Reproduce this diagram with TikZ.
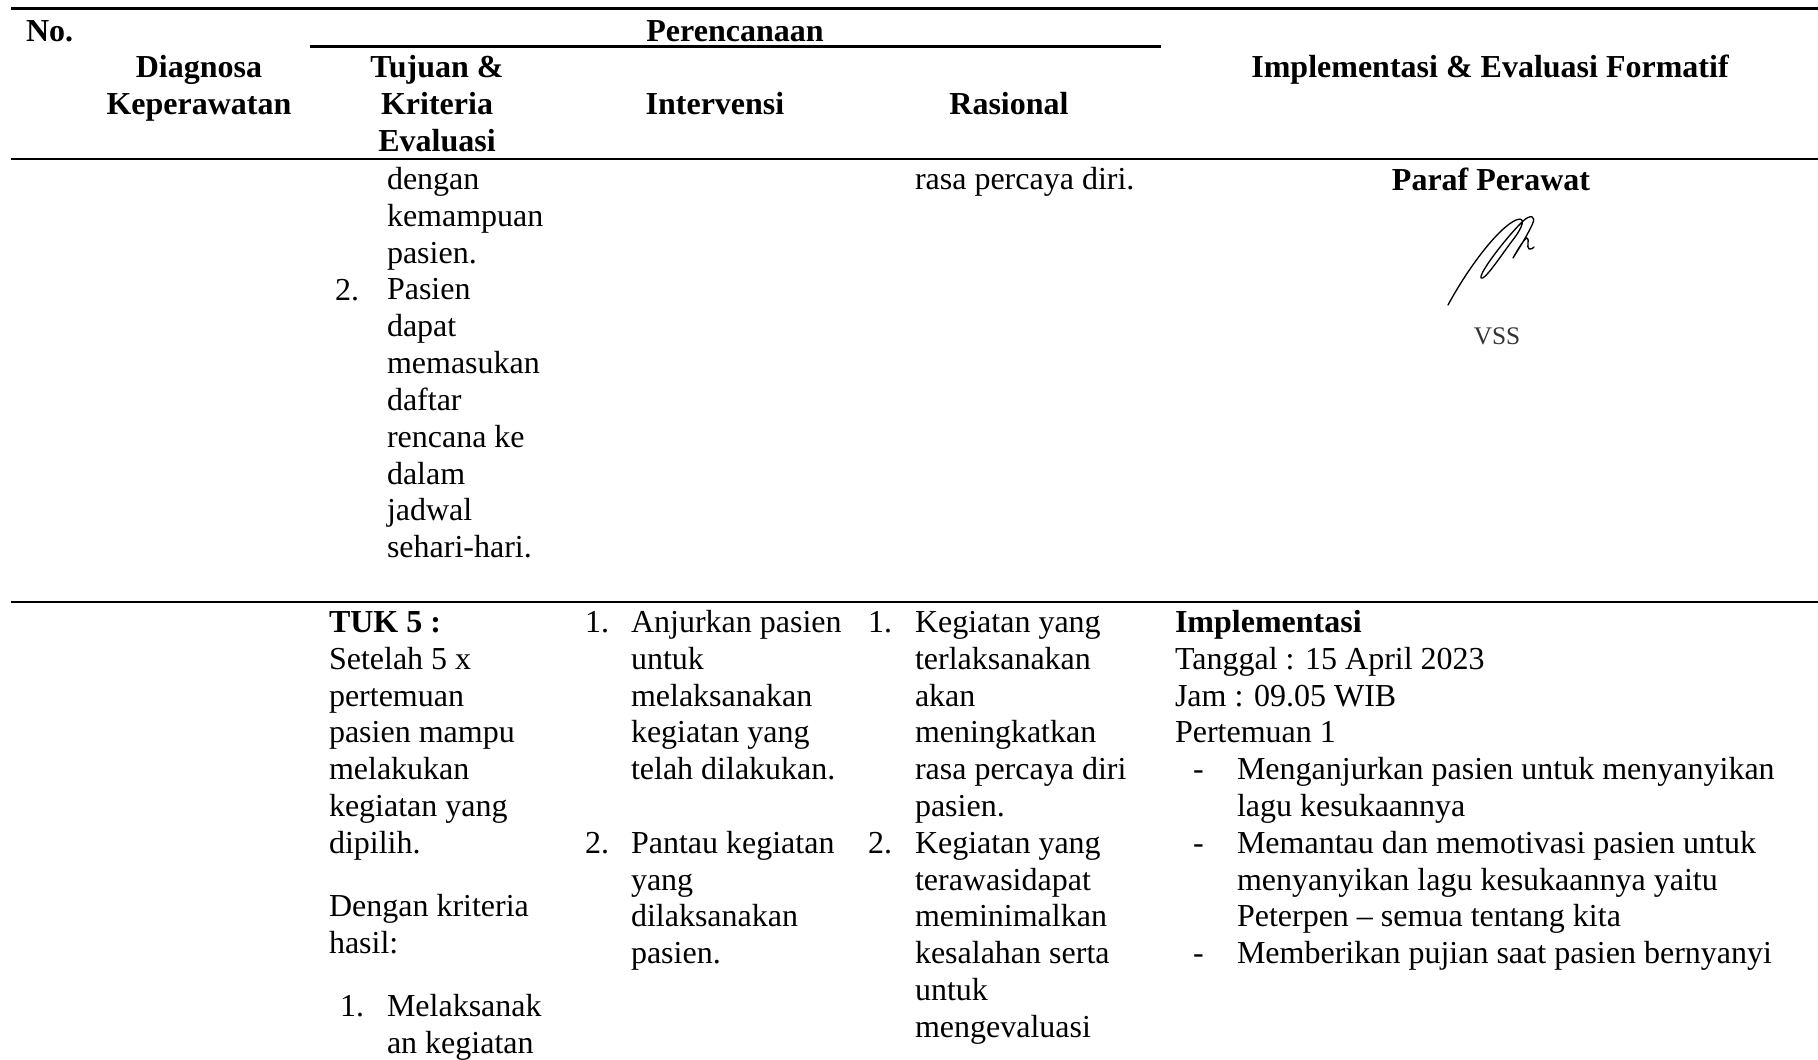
\documentclass[tikz,border=0pt]{standalone}
\usepackage{fontspec}
\setmainfont{Liberation Serif}

% left-aligned / centred stacks of lines; the box baseline is the first line's baseline
\newcommand\stackl[1]{\vtop{\baselineskip=13.8pt\lineskiplimit=-30pt\halign{##\hfil\cr#1\crcr}}}
\newcommand\stackc[1]{\vtop{\baselineskip=13.8pt\lineskiplimit=-30pt\halign{\hfil##\hfil\cr#1\crcr}}}
\newcommand\parskipgap{\noalign{\vskip10pt}}
\newcommand\blankline{\noalign{\vskip13.8pt}}

\tikzset{
  txt/.style={inner sep=0pt, outer sep=0pt, font=\fontsize{12}{13.8}\selectfont},
  lft/.style={txt, anchor=base west},
  ctr/.style={txt, anchor=base},
  hd/.style={ctr, font=\fontsize{12}{13.8}\selectfont\bfseries},
  hdl/.style={lft, font=\fontsize{12}{13.8}\selectfont\bfseries},
  rule/.style={line width=0.9pt},
  sig/.style={line width=0.5pt, line cap=round, line join=round},
}

\begin{document}
\begin{tikzpicture}[x=0.375pt, y=-0.375pt]
\fill[white] (0,0) rectangle (1818,1059);
\useasboundingbox (0,0) rectangle (1818,1059);

% ---- table rules ----
\draw[rule] (11,8.5) -- (1818,8.5);
\draw[rule] (310,46.7) -- (1161,46.7);
\draw[rule] (11,159) -- (1818,159);
\draw[rule] (11,602) -- (1818,602);

% ---- header ----
\node[hdl] (hno) at (26,41.5) {No.};
\node[hd] (hplan) at (735,41.5) {Perencanaan};
\node[hd] (hdiag) at (199,78) {\stackc{Diagnosa\cr Keperawatan}};
\node[hd] (htuj) at (437,78) {\stackc{Tujuan \&\cr Kriteria\cr Evaluasi}};
\node[hd] (hint) at (715,114.8) {Intervensi};
\node[hd] (hras) at (1009,114.8) {Rasional};
\node[hd] (himp) at (1490,78) {Implementasi \& Evaluasi Formatif};

% ---- first body row (continued cell) ----
\node[lft] (tuja) at (387,189.6) {\stackl{dengan\cr kemampuan\cr pasien.\cr Pasien\cr dapat\cr memasukan\cr daftar\cr rencana ke\cr dalam\cr jadwal\cr sehari-hari.}};
\node[lft] (tujan) at (335,300) {2.};
\node[lft] (rasa) at (915,189.6) {rasa percaya diri.};
\node[hd] (paraf) at (1491,191) {Paraf Perawat};

% hand-written initials
\draw[sig] (1448,305) .. controls (1468,268) and (1498,228) .. (1516,220)
  .. controls (1526,216) and (1524,226) .. (1512,241)
  .. controls (1498,260) and (1484,281) .. (1481,278)
  .. controls (1479,273) and (1505,239) .. (1522,222)
  .. controls (1530,214) and (1537,215) .. (1532,225)
  .. controls (1526,238) and (1516,253) .. (1513,258)
  .. controls (1518,249) and (1524,239) .. (1527,238)
  .. controls (1530,239) and (1526,247) .. (1529,249)
  .. controls (1531,250) and (1533,248) .. (1534,247);
\node[ctr, font=\fontsize{9.5}{11}\selectfont, text=black!80] (vss) at (1497,344) {VSS};

% ---- second body row ----
\node[lft] (tujb) at (329,632.4) {\stackl{\textbf{TUK 5 :}\cr Setelah 5 x\cr pertemuan\cr pasien mampu\cr melakukan\cr kegiatan yang\cr dipilih.\cr\parskipgap Dengan kriteria\cr hasil:}};
\node[lft] (tujbn) at (340,1016.9) {1.};
\node[lft] (tujbl) at (387,1016.9) {\stackl{Melaksanak\cr an kegiatan}};

\node[lft] (intn1) at (585,632.4) {1.};
\node[lft] (intn2) at (585,853.2) {2.};
\node[lft] (intb) at (631,632.4) {\stackl{Anjurkan pasien\cr untuk\cr melaksanakan\cr kegiatan yang\cr telah dilakukan.\cr\blankline Pantau kegiatan\cr yang\cr dilaksanakan\cr pasien.}};

\node[lft] (rasn1) at (868,632.4) {1.};
\node[lft] (rasn2) at (868,853.2) {2.};
\node[lft] (rasb) at (915,632.4) {\stackl{Kegiatan yang\cr terlaksanakan\cr akan\cr meningkatkan\cr rasa percaya diri\cr pasien.\cr Kegiatan yang\cr terawasidapat\cr meminimalkan\cr kesalahan serta\cr untuk\cr mengevaluasi}};

\node[lft] (impb) at (1175,632.4) {\stackl{\textbf{Implementasi}\cr Tanggal : 15 April 2023\cr Jam : 09.05 WIB\cr Pertemuan 1}};
\node[lft] (impd1) at (1193,779.6) {-};
\node[lft] (impd2) at (1193,853.2) {-};
\node[lft] (impd3) at (1193,963.6) {-};
\node[lft] (impl) at (1237,779.6) {\stackl{Menganjurkan pasien untuk menyanyikan\cr lagu kesukaannya\cr Memantau dan memotivasi pasien untuk\cr menyanyikan lagu kesukaannya yaitu\cr Peterpen – semua tentang kita\cr Memberikan pujian saat pasien bernyanyi}};
\end{tikzpicture}
\end{document}
